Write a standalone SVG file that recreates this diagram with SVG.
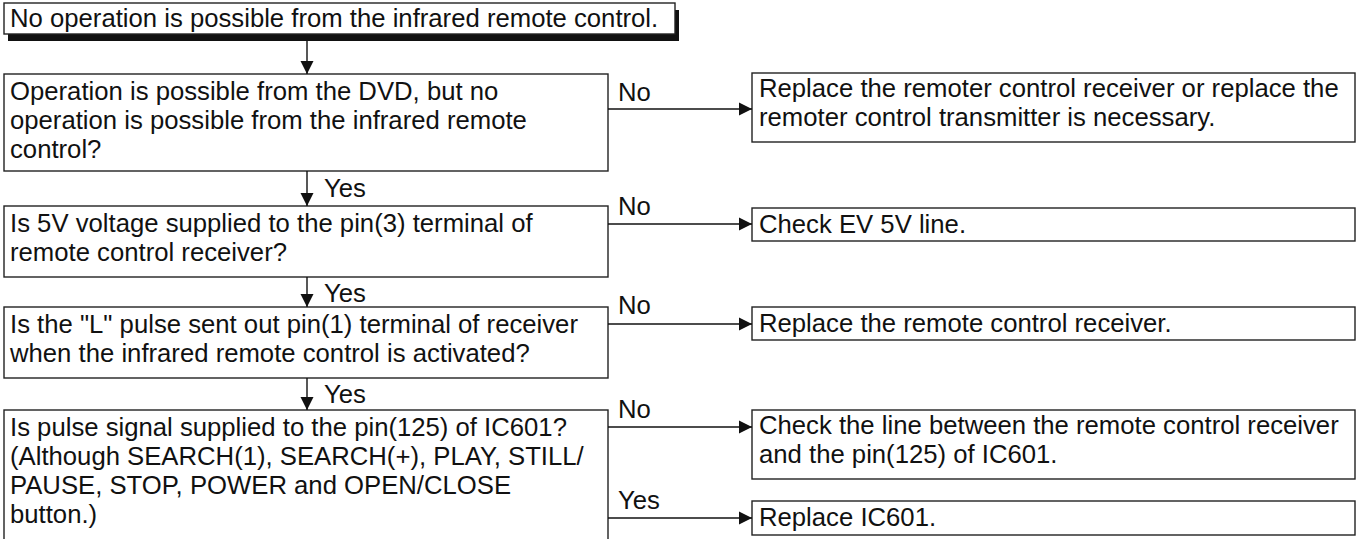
<svg xmlns="http://www.w3.org/2000/svg" width="1361" height="539" viewBox="0 0 1361 539">
<style>
.box{fill:#fff;stroke:#222;stroke-width:1.4}
.t{font-family:"Liberation Sans",Arial,sans-serif;font-size:25.7px;fill:#111}
.c{stroke:#111;stroke-width:1.4;fill:none}
</style>
<defs>
<marker id="ah" markerUnits="userSpaceOnUse" markerWidth="14" markerHeight="14" refX="13" refY="7" orient="auto">
<path d="M0,0.5 L13,7 L0,13.5 z" fill="#111"/>
</marker>
</defs>
<g id="start">
<rect x="8" y="10" width="671" height="31" fill="#111"/>
<rect class="box" x="4" y="3" width="671" height="31"/>
<text class="t" x="10" y="27">No operation is possible from the infrared remote control.</text>
</g>
<g id="q1">
<rect class="box" x="4" y="74" width="604" height="97"/>
<text class="t" x="10" y="100">Operation is possible from the DVD, but no</text>
<text class="t" x="10" y="129">operation is possible from the infrared remote</text>
<text class="t" x="10" y="158">control?</text>
</g>
<g id="q2">
<rect class="box" x="4" y="206" width="604" height="71"/>
<text class="t" x="10" y="232">Is 5V voltage supplied to the pin(3) terminal of</text>
<text class="t" x="10" y="261">remote control receiver?</text>
</g>
<g id="q3">
<rect class="box" x="4" y="307" width="604" height="71"/>
<text class="t" x="10" y="333">Is the "L" pulse sent out pin(1) terminal of receiver</text>
<text class="t" x="10" y="362">when the infrared remote control is activated?</text>
</g>
<g id="q4">
<rect class="box" x="4" y="410" width="604" height="140"/>
<text class="t" x="10" y="436">Is pulse signal supplied to the pin(125) of IC601?</text>
<text class="t" x="10" y="465">(Although SEARCH(1), SEARCH(+), PLAY, STILL/</text>
<text class="t" x="10" y="494">PAUSE, STOP, POWER and OPEN/CLOSE</text>
<text class="t" x="10" y="523">button.)</text>
</g>
<g id="r1">
<rect class="box" x="752" y="73" width="603" height="69"/>
<text class="t" x="759" y="97">Replace the remoter control receiver or replace the</text>
<text class="t" x="759" y="126">remoter control transmitter is necessary.</text>
</g>
<g id="r2">
<rect class="box" x="752" y="208" width="603" height="33"/>
<text class="t" x="759" y="233">Check EV 5V line.</text>
</g>
<g id="r3">
<rect class="box" x="752" y="307" width="603" height="33"/>
<text class="t" x="759" y="332">Replace the remote control receiver.</text>
</g>
<g id="r4">
<rect class="box" x="752" y="410" width="603" height="69"/>
<text class="t" x="759" y="434">Check the line between the remote control receiver</text>
<text class="t" x="759" y="463">and the pin(125) of IC601.</text>
</g>
<g id="r5">
<rect class="box" x="752" y="501" width="603" height="34"/>
<text class="t" x="759" y="526">Replace IC601.</text>
</g>
<g id="connectors">
<line class="c" x1="307" y1="41" x2="307" y2="74" marker-end="url(#ah)"/>
<line class="c" x1="307" y1="171" x2="307" y2="206" marker-end="url(#ah)"/>
<line class="c" x1="307" y1="277" x2="307" y2="307" marker-end="url(#ah)"/>
<line class="c" x1="307" y1="378" x2="307" y2="410" marker-end="url(#ah)"/>
<line class="c" x1="608" y1="109" x2="752" y2="109" marker-end="url(#ah)"/>
<line class="c" x1="608" y1="224" x2="752" y2="224" marker-end="url(#ah)"/>
<line class="c" x1="608" y1="324" x2="752" y2="324" marker-end="url(#ah)"/>
<line class="c" x1="608" y1="427" x2="752" y2="427" marker-end="url(#ah)"/>
<line class="c" x1="608" y1="518" x2="752" y2="518" marker-end="url(#ah)"/>
<text class="t" x="324" y="197">Yes</text>
<text class="t" x="324" y="302">Yes</text>
<text class="t" x="324" y="403">Yes</text>
<text class="t" x="618" y="101">No</text>
<text class="t" x="618" y="215">No</text>
<text class="t" x="618" y="314">No</text>
<text class="t" x="618" y="418">No</text>
<text class="t" x="618" y="509">Yes</text>
</g>
</svg>
